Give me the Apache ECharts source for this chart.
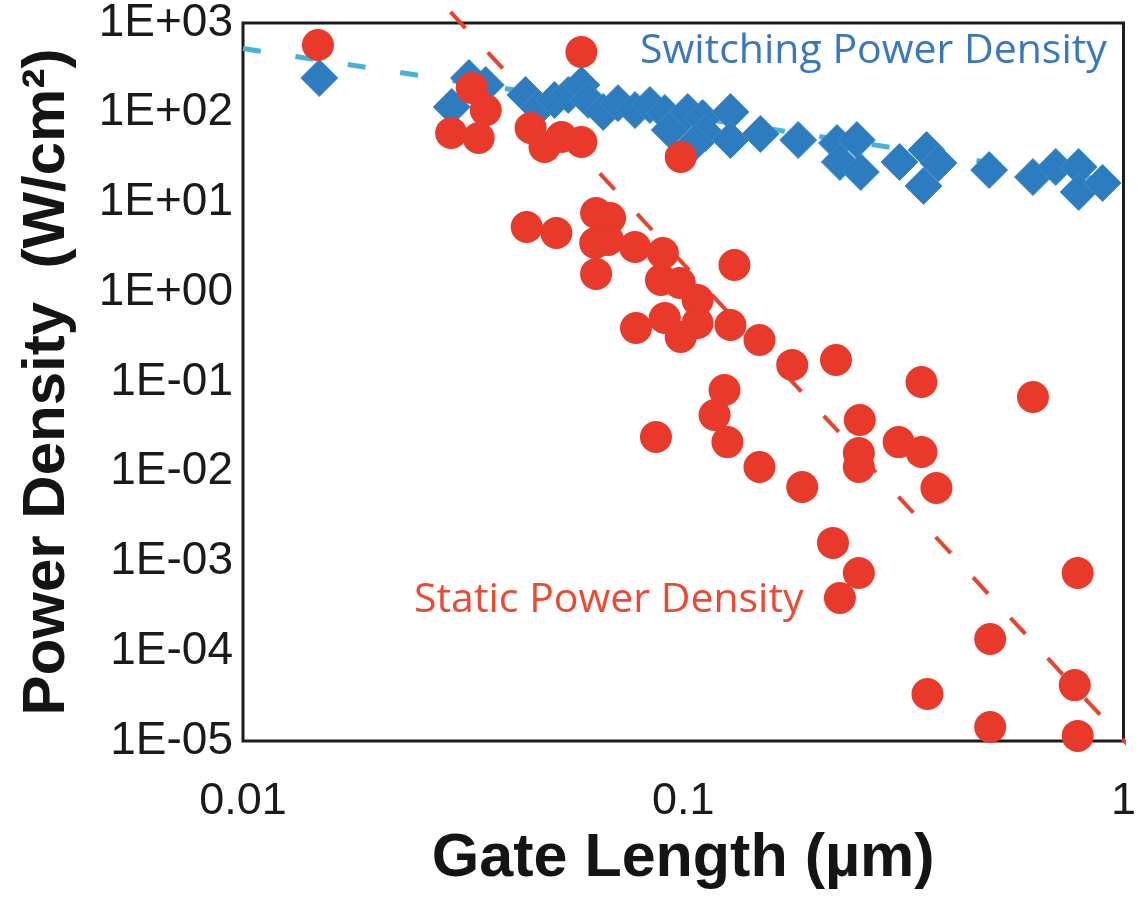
<!DOCTYPE html>
<html>
<head>
<meta charset="utf-8">
<script src="https://cdn.jsdelivr.net/npm/echarts@6/dist/echarts.min.js"></script>
<style>
  html, body { margin: 0; padding: 0; background: #ffffff; }
  #chart { width: 1139px; height: 909px; }
</style>
</head>
<body>
<div id="chart"></div>
<script>
// Tick labels
const xTickLabels = ['0.01', '0.1', '1'];
const yTickLabels = ['1E-05', '1E-04', '1E-03', '1E-02', '1E-01', '1E+00', '1E+01', '1E+02', '1E+03'];

// Static power density (W/cm²) vs gate length (µm)
const staticLength = [
  0.0148, 0.0587, 0.0331, 0.0356, 0.0297, 0.0343, 0.045, 0.0484, 0.0529, 0.0587,
  0.0987, 0.0441, 0.0515, 0.0634, 0.0682, 0.0631, 0.0675, 0.0777, 0.0899, 0.0634,
  0.089, 0.0982, 0.1078, 0.1307, 0.0781, 0.0908, 0.0987, 0.1078, 0.128, 0.149,
  0.1768, 0.2223, 0.3477, 0.1241, 0.1178, 0.126, 0.149, 0.0867, 0.2518, 0.3085,
  0.3477, 0.2505, 0.2505, 0.1863, 0.3759, 0.6229, 0.2188, 0.2505, 0.2269, 0.787,
  0.498, 0.3587, 0.775, 0.498, 0.787
];
const staticPower = [
  569, 475, 189, 107, 59.5, 52.3, 67.6, 41.5, 53.7, 47.2,
  32.1, 5.33, 4.57, 7.64, 6.72, 3.54, 3.82, 3.19, 2.74, 1.60,
  1.37, 1.27, 0.82, 2.01, 0.40, 0.516, 0.317, 0.454, 0.432, 0.294,
  0.155, 0.176, 0.100, 0.0815, 0.0429, 0.0214, 0.0113, 0.0244, 0.0377, 0.0214,
  0.0166, 0.0162, 0.0113, 0.00676, 0.00659, 0.0681, 0.00161, 0.000745, 0.000392, 0.000745,
  0.000137, 3.34e-5, 4.2e-5, 1.43e-5, 1.14e-5
];

// Switching power density (W/cm²) vs gate length (µm)
const switchLength = [
  0.0149, 0.0298, 0.0326, 0.0356, 0.0438, 0.0469, 0.051, 0.0548, 0.0587, 0.0608,
  0.0658, 0.0711, 0.0777, 0.084, 0.0908, 0.0932, 0.1024, 0.1107, 0.1124, 0.128,
  0.128, 0.1062, 0.1497, 0.1824, 0.2235, 0.248, 0.2269, 0.2531, 0.31, 0.3569,
  0.3799, 0.3514, 0.4953, 0.6229, 0.7017, 0.791, 0.791, 0.8965
];
const switchPower = [
  244, 116, 244, 204, 158, 113, 139, 158, 204, 139,
  102, 128, 107, 122, 99.4, 64.3, 102, 87.4, 59.5, 102,
  49.7, 46.0, 58.0, 49.7, 46.0, 49.7, 28.3, 21.9, 28.3, 38.5,
  27.5, 15.3, 23.0, 19.2, 24.9, 24.9, 13.1, 16.5
];

// Power-law trend lines (end points)
const switchTrendLength = [0.01, 1];
const switchTrendPower = [520, 16.5];
const staticTrendLength = [0.0296, 1.04];
const staticTrendPower = [1330, 8.3e-6];

const zip = (xs, ys) => xs.map((x, i) => [x, ys[i]]);

const chart = echarts.init(document.getElementById('chart'), null, { renderer: 'canvas' });

chart.setOption({
  animation: false,
  backgroundColor: '#ffffff',
  grid: {
    left: 243, top: 23, right: 9, bottom: 168,
    show: true, borderColor: '#1c1c1c', borderWidth: 3, backgroundColor: 'transparent'
  },
  xAxis: {
    type: 'log', logBase: 10, min: 0.01, max: 1, splitNumber: 2,
    name: 'Gate Length (µm)', nameLocation: 'middle', nameGap: 88,
    nameTextStyle: { fontFamily: 'Liberation Sans', fontWeight: 'bold', fontSize: 61, color: '#141414' },
    axisLine: { show: false },
    axisTick: { show: false },
    minorTick: { show: false },
    splitLine: { show: false },
    axisLabel: {
      fontFamily: 'Liberation Sans', fontSize: 45, color: '#1a1a1a', margin: 38,
      showMinLabel: true, showMaxLabel: true,
      formatter: v => xTickLabels[Math.round(Math.log10(v)) + 2]
    }
  },
  yAxis: {
    type: 'log', logBase: 10, min: 1e-5, max: 1e3, splitNumber: 8,
    name: 'Power Density  (W/cm²)', nameLocation: 'middle', nameGap: 166,
    nameTextStyle: { fontFamily: 'Liberation Sans', fontWeight: 'bold', fontSize: 60, color: '#141414' },
    axisLine: { show: false },
    axisTick: { show: false },
    minorTick: { show: false },
    splitLine: { show: false },
    axisLabel: {
      fontFamily: 'Liberation Sans', fontSize: 46, color: '#1a1a1a', margin: 10,
      showMinLabel: true, showMaxLabel: true,
      formatter: v => yTickLabels[Math.round(Math.log10(v)) + 5]
    }
  },
  series: [
    {
      name: 'Switching trend', type: 'line', z: 1, clip: false,
      data: zip(switchTrendLength, switchTrendPower),
      symbol: 'none',
      lineStyle: { color: '#47b2d9', width: 5, type: [18, 35], cap: 'butt' }
    },
    {
      name: 'Static trend', type: 'line', z: 1, clip: false,
      data: zip(staticTrendLength, staticTrendPower),
      symbol: 'none',
      lineStyle: { color: '#e8432c', width: 4, type: [22, 33], cap: 'butt' }
    },
    {
      name: 'Switching Power Density', type: 'scatter', z: 3, clip: false,
      data: zip(switchLength, switchPower),
      symbol: 'diamond', symbolSize: 37,
      itemStyle: { color: '#2e7cc0', borderColor: '#3a8cca', borderWidth: 1, opacity: 1 }
    },
    {
      name: 'Static Power Density', type: 'scatter', z: 4, clip: false,
      data: zip(staticLength, staticPower),
      symbol: 'circle', symbolSize: 32,
      itemStyle: { color: '#e8392a', opacity: 1 }
    }
  ],
  graphic: [
    {
      type: 'text', left: 640, top: 31, z: 10,
      style: { text: 'Switching Power Density', fill: '#3a77c3', font: '41px "Open Sans"' }
    },
    {
      type: 'text', left: 414, top: 580, z: 10,
      style: { text: 'Static Power Density', fill: '#f04830', font: '41px "Open Sans"' }
    }
  ]
});
</script>
</body>
</html>
